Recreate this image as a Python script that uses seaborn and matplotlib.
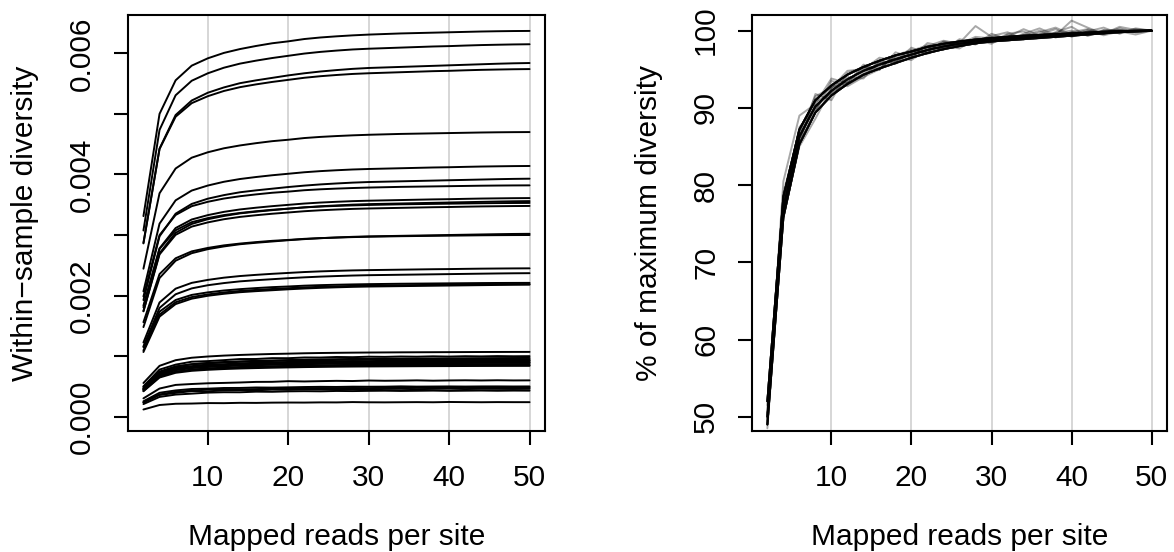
import numpy as np
import pandas as pd
import matplotlib
matplotlib.use("Agg")
import matplotlib.pyplot as plt
import seaborn as sns

# Mapped reads per site (subsampling depth)
reads = [2, 4, 6, 8, 10, 12, 14, 16, 18, 20, 22, 24, 26,
         28, 30, 32, 34, 36, 38, 40, 42, 44, 46, 48, 50]

# Within-sample diversity reached at 50 reads per site, one value per sample
final_diversity = [0.00637, 0.00615, 0.00584, 0.00574, 0.00470, 0.00414,
                   0.00393, 0.00382, 0.00361, 0.00356, 0.00353, 0.00348,
                   0.00302, 0.00300, 0.00245, 0.00237, 0.00221, 0.00219,
                   0.00218, 0.00107, 0.00100, 0.00097, 0.00095, 0.00093,
                   0.00092, 0.00090, 0.00089, 0.00087, 0.00085, 0.00084,
                   0.00060, 0.00050, 0.00048, 0.00046, 0.00043, 0.00024]

# Saturation curve (% of maximum diversity) followed by each sample
sample_curve = ["fast", "mid", "slow", "mid", "fast", "mid",
                "slow", "fast", "mid", "slow", "fast", "mid",
                "slow", "fast", "mid", "slow", "fast", "mid",
                "slow", "fast", "n7", "slow", "fast", "n8",
                "slow", "fast", "mid", "slow", "fast", "mid",
                "n4", "n6", "n5", "n3", "n2", "n1"]

pct_fast = [52.0, 78.5, 87.2, 91.0, 92.9, 94.3, 95.3, 96.1, 96.8, 97.3, 97.9, 98.3, 98.6,
            98.85, 99.05, 99.2, 99.35, 99.45, 99.55, 99.65, 99.75, 99.85, 99.92, 99.97, 100.0]
pct_mid = [50.0, 77.0, 86.3, 90.2, 92.2, 93.7, 94.8, 95.6, 96.3, 96.9, 97.5, 97.95, 98.3,
           98.6, 98.8, 98.95, 99.1, 99.25, 99.4, 99.5, 99.65, 99.78, 99.87, 99.95, 100.0]
pct_slow = [49.0, 75.8, 85.3, 89.4, 91.6, 93.1, 94.3, 95.1, 95.8, 96.5, 97.1, 97.6, 98.0,
            98.35, 98.6, 98.75, 98.9, 99.05, 99.2, 99.35, 99.5, 99.65, 99.8, 99.92, 100.0]
pct_n1 = [49.5, 80.5, 89.0, 90.5, 93.8, 93.2, 95.6, 95.0, 96.8, 97.5, 97.2, 98.6, 98.4,
          100.6, 99.2, 98.8, 99.6, 100.3, 99.4, 101.3, 100.4, 99.6, 100.5, 100.1, 100.0]
pct_n2 = [48.5, 76.0, 85.0, 88.6, 92.5, 94.0, 93.8, 96.2, 95.7, 97.4, 98.1, 97.5, 98.9,
          98.4, 99.3, 99.8, 98.9, 99.5, 100.2, 99.2, 99.9, 100.4, 99.6, 100.3, 100.0]
pct_n3 = [51.5, 78.0, 85.5, 91.8, 91.0, 94.5, 95.3, 94.9, 97.2, 96.5, 98.4, 98.0, 97.7,
          99.0, 98.5, 99.6, 99.9, 99.0, 99.8, 100.5, 99.3, 100.1, 99.9, 99.5, 100.0]
pct_n4 = [50.5, 77.5, 87.5, 90.0, 92.0, 93.0, 94.2, 95.8, 96.0, 97.8, 97.0, 97.9, 98.7,
          98.2, 99.6, 98.9, 99.3, 100.0, 99.1, 99.8, 100.2, 99.7, 100.3, 99.8, 100.0]
pct_n5 = [49.0, 76.5, 86.0, 89.5, 93.5, 92.8, 94.0, 95.0, 96.5, 96.2, 97.6, 98.5, 98.1,
          98.8, 98.3, 99.5, 99.0, 99.8, 100.4, 99.5, 100.1, 99.4, 99.9, 100.2, 100.0]
pct_n6 = [51.0, 79.0, 86.8, 91.5, 92.6, 94.8, 95.0, 96.5, 96.1, 97.0, 98.0, 98.7, 98.3,
          99.2, 99.0, 99.2, 100.2, 99.4, 99.7, 100.0, 99.6, 100.0, 100.1, 99.8, 100.0]
pct_n7 = [50.2, 77.8, 86.0, 90.8, 91.8, 93.4, 95.2, 95.3, 96.7, 96.6, 97.8, 97.7, 98.6,
          98.3, 99.1, 98.8, 99.4, 99.1, 99.7, 99.3, 99.9, 99.6, 100.1, 99.8, 100.0]
pct_n8 = [49.8, 76.8, 86.9, 89.8, 92.7, 93.3, 94.5, 95.9, 96.0, 97.2, 97.3, 98.2, 98.0,
          98.8, 98.6, 99.3, 98.9, 99.5, 99.2, 99.8, 99.5, 100.0, 99.7, 100.1, 100.0]

curves = {"fast": pct_fast, "mid": pct_mid, "slow": pct_slow,
          "n1": pct_n1, "n2": pct_n2, "n3": pct_n3, "n4": pct_n4,
          "n5": pct_n5, "n6": pct_n6, "n7": pct_n7, "n8": pct_n8}

xtick_values = [10, 20, 30, 40, 50]
left_ytick_values = [0.000, 0.001, 0.002, 0.003, 0.004, 0.005, 0.006]
left_ytick_labels = ["0.000", "", "0.002", "", "0.004", "", "0.006"]
right_ytick_values = [50, 60, 70, 80, 90, 100]

# Long-format table: one row per sample and depth
rows = []
for i, (fin, key) in enumerate(zip(final_diversity, sample_curve)):
    for r, p in zip(reads, curves[key]):
        rows.append({"sample": i, "reads": r, "pct": p, "diversity": fin * p / 100.0})
df = pd.DataFrame(rows)

sns.set_style("white")
plt.rcParams["font.family"] = ["Liberation Sans", "DejaVu Sans"]
plt.rcParams["text.color"] = "black"
plt.rcParams["axes.labelcolor"] = "black"
plt.rcParams["axes.linewidth"] = 1.5
FS = 21.5

fig = plt.figure(figsize=(11.74, 5.52), dpi=100)
ax1 = fig.add_axes([128 / 1174, 121 / 552, 417 / 1174, 416 / 552])
ax2 = fig.add_axes([752 / 1174, 121 / 552, 415 / 1174, 416 / 552])

for ax in (ax1, ax2):
    for xv in xtick_values:
        ax.axvline(xv, color="#d3d3d3", lw=1.3, zorder=0)

sns.lineplot(data=df, x="reads", y="diversity", units="sample", estimator=None,
             color="black", lw=1.4, ax=ax1, legend=False)
sns.lineplot(data=df, x="reads", y="pct", units="sample", estimator=None,
             color="black", alpha=0.34, lw=1.4, ax=ax2, legend=False)

ax1.set_xlim(0.08, 51.92)
ax1.set_ylim(-0.000236, 0.006633)
ax2.set_xlim(0.08, 51.92)
ax2.set_ylim(48.15, 102.03)

ax1.set_yticks(left_ytick_values)
ax1.set_yticklabels(left_ytick_labels)
ax2.set_yticks(right_ytick_values)
ax2.set_yticklabels([str(v) for v in right_ytick_values])

for ax in (ax1, ax2):
    ax.set_xticks(xtick_values)
    ax.set_xticklabels([str(v) for v in xtick_values])
    ax.tick_params(axis="both", direction="out", length=10, width=1.5,
                   labelsize=FS, color="black", labelcolor="black")
    ax.tick_params(axis="x", pad=14, bottom=True)
    ax.tick_params(axis="y", pad=13, left=True)
    for lab in ax.get_yticklabels():
        lab.set_rotation(90)
        lab.set_va("center")
    for s in ax.spines.values():
        s.set_color("black")
        s.set_linewidth(1.5)
    ax.set_xlabel("Mapped reads per site", fontsize=FS, labelpad=22, color="black")

ax1.set_ylabel("Within\u2212sample diversity", fontsize=FS, labelpad=21, color="black")
ax2.set_ylabel("% of maximum diversity", fontsize=FS, labelpad=21, color="black")

fig.savefig("out.png", dpi=100, facecolor="white")
